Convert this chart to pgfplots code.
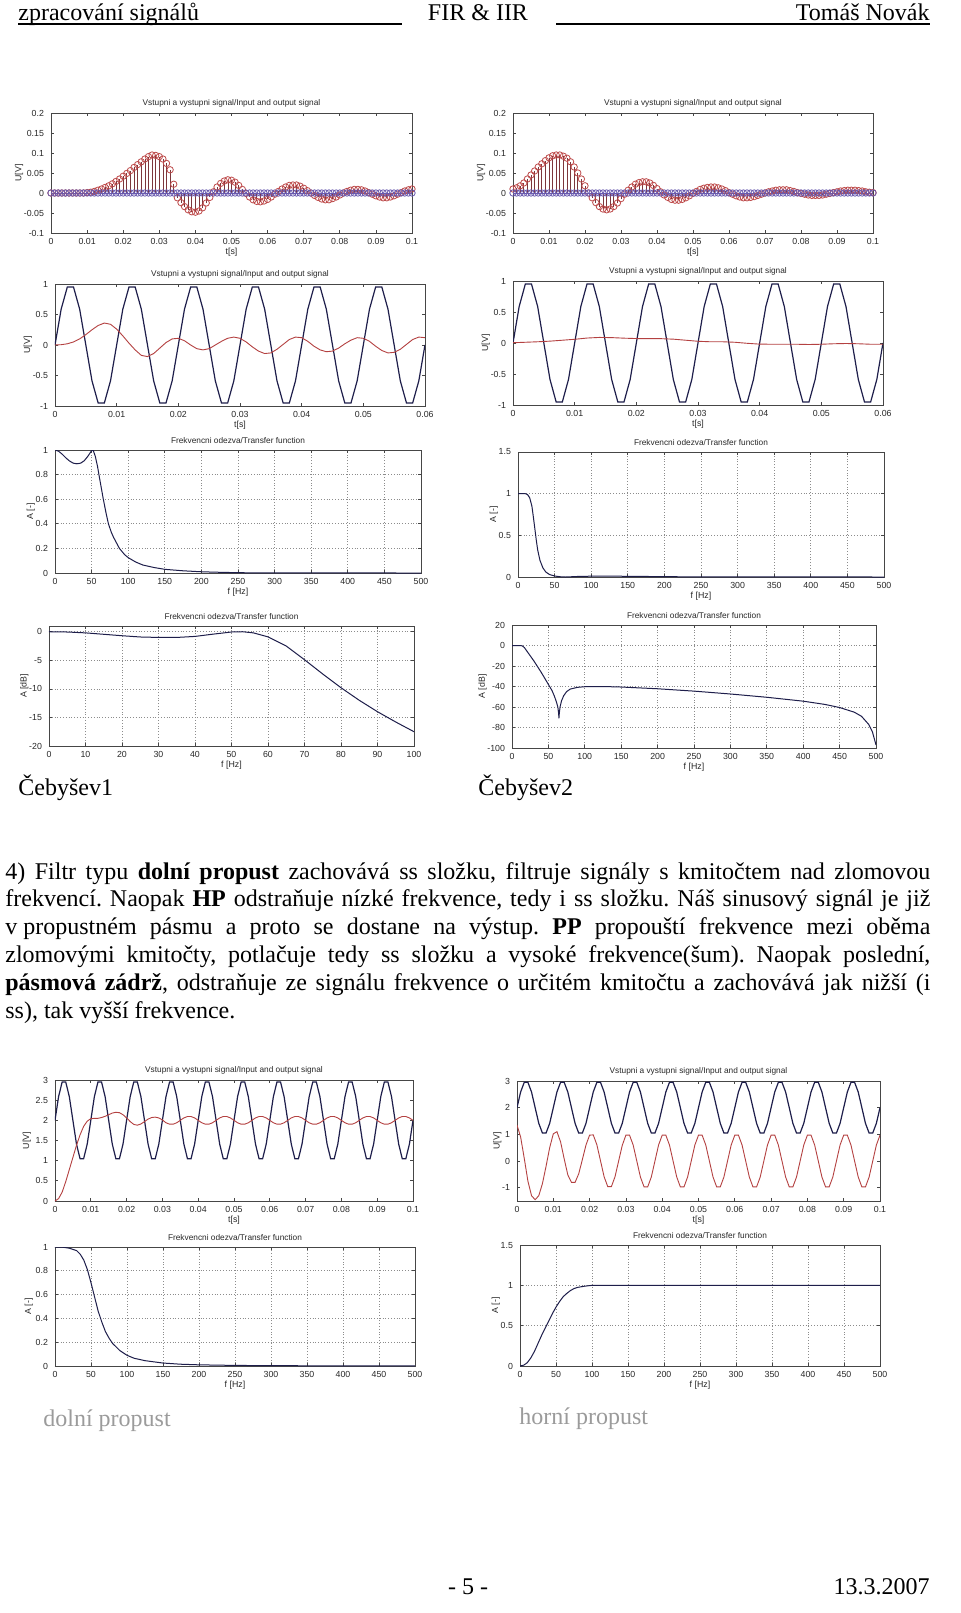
\documentclass[border=0pt]{standalone}
\usepackage{fontspec}
\setmainfont{Liberation Serif}
\newfontfamily\msans{Liberation Sans}
\usepackage{pgfplots}
\usepackage{pgfplotstable}
\pgfplotsset{compat=1.18}

\definecolor{axc}{RGB}{70,70,70}
\definecolor{txc}{RGB}{40,40,40}
\definecolor{navy}{RGB}{30,30,75}
\definecolor{redl}{RGB}{180,65,65}
\definecolor{stemr}{RGB}{125,55,60}
\definecolor{circr}{RGB}{190,75,75}
\definecolor{circb}{RGB}{105,90,175}
\definecolor{grayt}{RGB}{155,155,155}

\newcommand\mf{\msans\fontsize{4.4}{5}\selectfont}
\newcommand\mtf{\msans\fontsize{4.15}{5}\selectfont}
\newcommand\tf{\fontsize{12}{14}\selectfont\frenchspacing}

\pgfplotsset{
  mat/.style={scale only axis, anchor=north west,
    scaled x ticks=false, scaled y ticks=false,
    axis line style={draw=axc, line width=0.4pt},
    every tick/.style={draw=axc, line width=0.35pt},
    major tick length=1.6pt, tick align=inside,
    ticklabel style={font=\mf, text=txc},
    xticklabel style={yshift=0.8pt},
    label style={font=\mf, text=txc},
    every axis title/.style={at={(0.5,1)}, anchor=south, font=\mtf, text=txc, inner sep=1pt, yshift=1.8pt},
    xlabel style={yshift=5.3pt}, ylabel style={yshift=-6.5pt}},
  mgrid/.style={grid=major, major grid style={densely dotted, draw=black!45, line width=0.35pt}},
  tsec/.style={xmin=0, xmax=0.1,
    xtick={0,0.01,0.02,0.03,0.04,0.05,0.06,0.07,0.08,0.09,0.1},
    xticklabels={0,0.01,0.02,0.03,0.04,0.05,0.06,0.07,0.08,0.09,0.1},
    xlabel={t[s]}, ylabel={U[V]}, title={Vstupni a vystupni signal/Input and output signal}},
  tshort/.style={xmin=0, xmax=0.06,
    xtick={0,0.01,0.02,0.03,0.04,0.05,0.06},
    xticklabels={0,0.01,0.02,0.03,0.04,0.05,0.06},
    ymin=-1, ymax=1, ytick={-1,-0.5,0,0.5,1}, yticklabels={-1,-0.5,0,0.5,1},
    xlabel={t[s]}, ylabel={U[V]}, title={Vstupni a vystupni signal/Input and output signal}},
  f500/.style={mgrid, xmin=0, xmax=500,
    xtick={0,50,100,150,200,250,300,350,400,450,500},
    xticklabels={0,50,100,150,200,250,300,350,400,450,500},
    xlabel={f [Hz]}, title={Frekvencni odezva/Transfer function}},
  inp/.style={draw=navy, line width=0.6pt},
  outp/.style={draw=redl, line width=0.45pt},
  frq/.style={draw=navy, line width=0.5pt},
}

% impulse responses, t step 0.001 s
\pgfplotstableread{
t a b z
0.000 0 0.010 0
0.001 0 0.013 0
0.002 0 0.018 0
0.003 0 0.025 0
0.004 0 0.035 0
0.005 0 0.045 0
0.006 0 0.055 0
0.007 0 0.065 0
0.008 0 0.073 0
0.009 0 0.081 0
0.010 0.001 0.088 0
0.011 0.002 0.093 0
0.012 0.004 0.095 0
0.013 0.007 0.095 0
0.014 0.010 0.092 0
0.015 0.014 0.087 0
0.016 0.018 0.078 0
0.017 0.023 0.065 0
0.018 0.029 0.050 0
0.019 0.035 0.035 0
0.020 0.042 0.018 0
0.021 0.049 0.000 0
0.022 0.056 -0.012 0
0.023 0.064 -0.024 0
0.024 0.071 -0.034 0
0.025 0.078 -0.040 0
0.026 0.085 -0.042 0
0.027 0.091 -0.040 0
0.028 0.095 -0.034 0
0.029 0.094 -0.025 0
0.030 0.091 -0.014 0
0.031 0.085 -0.003 0
0.032 0.074 0.007 0
0.033 0.058 0.015 0
0.034 0.022 0.022 0
0.035 -0.012 0.026 0
0.036 -0.024 0.028 0
0.037 -0.034 0.028 0
0.038 -0.042 0.025 0
0.039 -0.047 0.019 0
0.040 -0.048 0.011 0
0.041 -0.045 0.003 0
0.042 -0.037 -0.005 0
0.043 -0.025 -0.011 0
0.044 -0.011 -0.016 0
0.045 0.003 -0.018 0
0.046 0.015 -0.018 0
0.047 0.024 -0.016 0
0.048 0.030 -0.012 0
0.049 0.033 -0.007 0
0.050 0.032 -0.001 0
0.051 0.027 0.004 0
0.052 0.019 0.009 0
0.053 0.009 0.012 0
0.054 -0.001 0.014 0
0.055 -0.010 0.015 0
0.056 -0.017 0.015 0
0.057 -0.021 0.013 0
0.058 -0.022 0.010 0
0.059 -0.020 0.006 0
0.060 -0.016 0.001 0
0.061 -0.010 -0.003 0
0.062 -0.003 -0.007 0
0.063 0.004 -0.010 0
0.064 0.010 -0.012 0
0.065 0.015 -0.012 0
0.066 0.019 -0.011 0
0.067 0.020 -0.009 0
0.068 0.020 -0.006 0
0.069 0.017 -0.003 0
0.070 0.012 0.000 0
0.071 0.006 0.003 0
0.072 0.000 0.005 0
0.073 -0.006 0.007 0
0.074 -0.011 0.008 0
0.075 -0.015 0.008 0
0.076 -0.017 0.008 0
0.077 -0.017 0.006 0
0.078 -0.014 0.004 0
0.079 -0.010 0.001 0
0.080 -0.005 -0.001 0
0.081 0.000 -0.003 0
0.082 0.004 -0.005 0
0.083 0.007 -0.006 0
0.084 0.009 -0.006 0
0.085 0.009 -0.006 0
0.086 0.008 -0.005 0
0.087 0.005 -0.003 0
0.088 0.001 -0.001 0
0.089 -0.003 0.001 0
0.090 -0.007 0.003 0
0.091 -0.010 0.005 0
0.092 -0.012 0.006 0
0.093 -0.012 0.007 0
0.094 -0.010 0.007 0
0.095 -0.007 0.007 0
0.096 -0.003 0.006 0
0.097 0.001 0.005 0
0.098 0.005 0.003 0
0.099 0.008 0.002 0
0.100 0.010 0.001 0
}\stem

% 100 Hz input and Cebysev1 output, 0..0.06 s
\pgfplotstableread{
t s c
0.000 0 0
0.001 0.588 0.005
0.002 0.951 0.02
0.003 0.951 0.05
0.004 0.588 0.10
0.005 0 0.17
0.006 -0.588 0.25
0.007 -0.951 0.32
0.008 -0.951 0.36
0.009 -0.588 0.34
0.010 0 0.26
0.011 0.588 0.15
0.012 0.951 0.03
0.013 0.951 -0.08
0.014 0.588 -0.17
0.015 0 -0.19
0.016 -0.588 -0.14
0.017 -0.951 -0.05
0.018 -0.951 0.04
0.019 -0.588 0.10
0.020 0 0.11
0.021 0.588 0.07
0.022 0.951 0.00
0.023 0.951 -0.06
0.024 0.588 -0.08
0.025 0 -0.06
0.026 -0.588 0.00
0.027 -0.951 0.06
0.028 -0.951 0.11
0.029 -0.588 0.13
0.030 0 0.11
0.031 0.588 0.05
0.032 0.951 -0.03
0.033 0.951 -0.10
0.034 0.588 -0.14
0.035 0 -0.13
0.036 -0.588 -0.07
0.037 -0.951 0.01
0.038 -0.951 0.09
0.039 -0.588 0.13
0.040 0 0.12
0.041 0.588 0.06
0.042 0.951 -0.02
0.043 0.951 -0.08
0.044 0.588 -0.11
0.045 0 -0.10
0.046 -0.588 -0.05
0.047 -0.951 0.02
0.048 -0.951 0.08
0.049 -0.588 0.12
0.050 0 0.11
0.051 0.588 0.06
0.052 0.951 -0.02
0.053 0.951 -0.09
0.054 0.588 -0.13
0.055 0 -0.12
0.056 -0.588 -0.07
0.057 -0.951 0.01
0.058 -0.951 0.09
0.059 -0.588 0.13
0.060 0 0.12
}\sine

% input with dc offset, high pass output h, low pass output l
\pgfplotstableread{
t d h l
0.000 2 1.35 0.00
0.001 2.588 0.90 0.06
0.002 2.951 0.10 0.22
0.003 2.951 -0.75 0.48
0.004 2.588 -1.30 0.78
0.005 2 -1.45 1.08
0.006 1.412 -1.30 1.38
0.007 1.049 -0.85 1.64
0.008 1.049 -0.20 1.85
0.009 1.412 0.50 1.98
0.010 2 1.02 2.04
0.011 2.588 1.10 2.05
0.012 2.951 0.72 2.05
0.013 2.951 0.08 2.07
0.014 2.588 -0.52 2.10
0.015 2 -0.80 2.14
0.016 1.412 -0.80 2.18
0.017 1.049 -0.48 2.20
0.018 1.049 0.05 2.19
0.019 1.412 0.60 2.14
0.020 2 0.97 2.06
0.021 2.588 0.98 1.97
0.022 2.951 0.61 1.90
0.023 2.951 0.01 1.88
0.024 2.588 -0.59 1.91
0.025 2 -0.96 1.97
0.026 1.412 -0.96 2.03
0.027 1.049 -0.59 2.07
0.028 1.049 0.00 2.08
0.029 1.412 0.59 2.06
0.030 2 0.97 2.01
0.031 2.588 0.97 1.94
0.032 2.951 0.60 1.905
0.033 2.951 0.00 1.905
0.034 2.588 -0.60 1.94
0.035 2 -0.97 2.00
0.036 1.412 -0.97 2.06
0.037 1.049 -0.60 2.095
0.038 1.049 0.00 2.095
0.039 1.412 0.60 2.06
0.040 2 0.97 2.00
0.041 2.588 0.97 1.94
0.042 2.951 0.60 1.905
0.043 2.951 0.00 1.905
0.044 2.588 -0.60 1.94
0.045 2 -0.97 2.00
0.046 1.412 -0.97 2.06
0.047 1.049 -0.60 2.095
0.048 1.049 0.00 2.095
0.049 1.412 0.60 2.06
0.050 2 0.97 2.00
0.051 2.588 0.97 1.94
0.052 2.951 0.60 1.905
0.053 2.951 0.00 1.905
0.054 2.588 -0.60 1.94
0.055 2 -0.97 2.00
0.056 1.412 -0.97 2.06
0.057 1.049 -0.60 2.095
0.058 1.049 0.00 2.095
0.059 1.412 0.60 2.06
0.060 2 0.97 2.00
0.061 2.588 0.97 1.94
0.062 2.951 0.60 1.905
0.063 2.951 0.00 1.905
0.064 2.588 -0.60 1.94
0.065 2 -0.97 2.00
0.066 1.412 -0.97 2.06
0.067 1.049 -0.60 2.095
0.068 1.049 0.00 2.095
0.069 1.412 0.60 2.06
0.070 2 0.97 2.00
0.071 2.588 0.97 1.94
0.072 2.951 0.60 1.905
0.073 2.951 0.00 1.905
0.074 2.588 -0.60 1.94
0.075 2 -0.97 2.00
0.076 1.412 -0.97 2.06
0.077 1.049 -0.60 2.095
0.078 1.049 0.00 2.095
0.079 1.412 0.60 2.06
0.080 2 0.97 2.00
0.081 2.588 0.97 1.94
0.082 2.951 0.60 1.905
0.083 2.951 0.00 1.905
0.084 2.588 -0.60 1.94
0.085 2 -0.97 2.00
0.086 1.412 -0.97 2.06
0.087 1.049 -0.60 2.095
0.088 1.049 0.00 2.095
0.089 1.412 0.60 2.06
0.090 2 0.97 2.00
0.091 2.588 0.97 1.94
0.092 2.951 0.60 1.905
0.093 2.951 0.00 1.905
0.094 2.588 -0.60 1.94
0.095 2 -0.97 2.00
0.096 1.412 -0.97 2.06
0.097 1.049 -0.60 2.095
0.098 1.049 0.00 2.095
0.099 1.412 0.60 2.06
0.100 2 0.97 2.00
}\dcsig

\begin{document}
\begin{tikzpicture}
\useasboundingbox[fill=white] (0,0) rectangle (480pt,-806.5pt);

% header
\node[anchor=base west, inner sep=0, font=\tf] at (9pt,-10pt) {zpracování signálů};
\draw[line width=0.6pt] (9pt,-12pt) -- (201pt,-12pt);
\node[anchor=base, inner sep=0, font=\tf] at (239pt,-10pt) {FIR \& IIR};
\draw[line width=0.6pt] (278pt,-12pt) -- (465pt,-12pt);
\node[anchor=base east, inner sep=0, font=\tf] at (465pt,-10pt) {Tomáš Novák};

% ---- Cebysev1 ----
\begin{axis}[mat, tsec, at={(25.5pt,-56.5pt)}, width=180.5pt, height=60pt,
  ymin=-0.1, ymax=0.2, ytick={-0.1,-0.05,0,0.05,0.1,0.15,0.2},
  yticklabels={-0.1,-0.05,0,0.05,0.1,0.15,0.2}]
\addplot[ycomb, draw=stemr, line width=0.35pt, mark=o, mark size=1.6pt,
  mark options={draw=circr, line width=0.4pt}] table[x=t, y=a]{\stem};
\addplot[only marks, mark=o, mark size=1.6pt, mark options={draw=circb, line width=0.4pt}] table[x=t, y=z]{\stem};
\addplot[draw=circb, line width=0.5pt] coordinates {(0,0) (0.1,0)};
\end{axis}

\begin{axis}[mat, tshort, at={(27.5pt,-142pt)}, width=185pt, height=61pt]
\addplot[inp] table[x=t, y=s]{\sine};
\addplot[outp] table[x=t, y=c]{\sine};
\end{axis}

\begin{axis}[mat, f500, at={(27.5pt,-225pt)}, width=183pt, height=61.5pt,
  ymin=0, ymax=1, ytick={0,0.2,0.4,0.6,0.8,1}, yticklabels={0,0.2,0.4,0.6,0.8,1},
  ylabel={A [-]}]
\addplot[frq] coordinates {(0,1.0) (5,0.99) (10,0.965) (15,0.935) (20,0.91) (25,0.893)
  (30,0.888) (35,0.893) (40,0.913) (45,0.95) (50,0.995) (52,1.0) (55,0.95) (58,0.87)
  (60,0.80) (63,0.70) (66,0.60) (70,0.48) (73,0.40) (77,0.33) (80,0.29) (88,0.20)
  (95,0.15) (100,0.125) (110,0.09) (120,0.065) (135,0.045) (150,0.03) (175,0.018)
  (200,0.01) (230,0.005) (260,0.002) (300,0.001) (400,0.0003) (500,0)};
\end{axis}

\begin{axis}[mat, mgrid, at={(24.5pt,-313pt)}, width=182.5pt, height=60pt,
  xmin=0, xmax=100, xtick={0,10,20,30,40,50,60,70,80,90,100},
  xticklabels={0,10,20,30,40,50,60,70,80,90,100},
  ymin=-20, ymax=1, ytick={-20,-15,-10,-5,0}, yticklabels={-20,-15,-10,-5,0},
  xlabel={f [Hz]}, ylabel={A [dB]}, title={Frekvencni odezva/Transfer function}]
\addplot[frq] coordinates {(0,0) (5,-0.05) (10,-0.2) (15,-0.45) (20,-0.7) (25,-0.92)
  (30,-1.0) (35,-1.0) (40,-0.82) (45,-0.42) (50,-0.05) (53,0) (56,-0.2) (60,-0.9)
  (65,-2.5) (70,-4.9) (75,-7.4) (80,-9.8) (85,-12) (90,-14) (95,-15.8) (100,-17.5)};
\end{axis}

% ---- Cebysev2 ----
\begin{axis}[mat, tsec, at={(256.5pt,-56.5pt)}, width=180pt, height=60pt,
  ymin=-0.1, ymax=0.2, ytick={-0.1,-0.05,0,0.05,0.1,0.15,0.2},
  yticklabels={-0.1,-0.05,0,0.05,0.1,0.15,0.2}]
\addplot[ycomb, draw=stemr, line width=0.35pt, mark=o, mark size=1.6pt,
  mark options={draw=circr, line width=0.4pt}] table[x=t, y=b]{\stem};
\addplot[only marks, mark=o, mark size=1.6pt, mark options={draw=circb, line width=0.4pt}] table[x=t, y=z]{\stem};
\addplot[draw=circb, line width=0.5pt] coordinates {(0,0) (0.1,0)};
\end{axis}

\begin{axis}[mat, tshort, at={(256.5pt,-140.5pt)}, width=185pt, height=62pt]
\addplot[inp] table[x=t, y=s]{\sine};
\addplot[outp] coordinates {(0,0.005) (0.002,0.012) (0.004,0.02) (0.006,0.03) (0.008,0.045)
  (0.010,0.06) (0.012,0.08) (0.014,0.09) (0.016,0.087) (0.018,0.078) (0.020,0.072)
  (0.022,0.07) (0.024,0.07) (0.026,0.062) (0.028,0.045) (0.030,0.028) (0.032,0.02)
  (0.034,0.02) (0.036,0.012) (0.038,-0.005) (0.040,-0.018) (0.042,-0.02) (0.044,-0.02)
  (0.046,-0.02) (0.048,-0.024) (0.050,-0.02) (0.052,-0.012) (0.054,-0.008) (0.056,-0.012)
  (0.058,-0.02) (0.060,-0.02)};
\end{axis}

\begin{axis}[mat, f500, at={(259pt,-226pt)}, width=183pt, height=62.5pt,
  ymin=0, ymax=1.5, ytick={0,0.5,1,1.5}, yticklabels={0,0.5,1,1.5}, ylabel={A [-]}]
\addplot[frq] coordinates {(0,1) (10,1) (13,0.99) (16,0.95) (19,0.85) (21,0.72) (23,0.58)
  (25,0.44) (27,0.32) (30,0.2) (34,0.11) (38,0.06) (43,0.03) (50,0.012) (58,0.003) (65,0)
  (80,0.006) (100,0.01) (150,0.009) (190,0.005) (220,0.003) (300,0.002) (400,0.001) (500,0)};
\end{axis}

\begin{axis}[mat, f500, at={(256pt,-312.5pt)}, width=182pt, height=61.5pt,
  ymin=-100, ymax=20, ytick={-100,-80,-60,-40,-20,0,20},
  yticklabels={-100,-80,-60,-40,-20,0,20}, ylabel={A [dB]}]
\addplot[frq] coordinates {(0,0) (10,0) (14,-0.3) (17,-2) (20,-5) (25,-10) (30,-15)
  (35,-20.5) (40,-26) (45,-32) (50,-38) (55,-44) (58,-49) (61,-55) (63,-60) (64,-66)
  (64.5,-71) (65,-66) (66,-60) (68,-54) (71,-49) (75,-45) (80,-42.5) (90,-40.8)
  (100,-40.2) (125,-40) (150,-40.5) (200,-42.2) (250,-44.5) (300,-47.3) (350,-50.5)
  (400,-54.3) (430,-57.5) (450,-60.5) (470,-65) (480,-69) (490,-77) (495,-84) (500,-97)};
\end{axis}

\node[anchor=base west, inner sep=0, font=\tf] at (9pt,-397.5pt) {Čebyšev1};
\node[anchor=base west, inner sep=0, font=\tf] at (239pt,-397.5pt) {Čebyšev2};

% paragraph
\begin{scope}[every node/.style={anchor=base west, inner sep=0, font=\tf}]
\node at (2.5pt,-439.5pt) {\hbox to 462.5pt{4) Filtr typu \textbf{dolní propust} zachovává ss složku, filtruje signály s kmitočtem nad zlomovou}};
\node at (2.5pt,-453.4pt) {\hbox to 462.5pt{frekvencí. Naopak \textbf{HP} odstraňuje nízké frekvence, tedy i ss složku. Náš sinusový signál je již}};
\node at (2.5pt,-467.3pt) {\hbox to 462.5pt{v\kern3pt propustném pásmu a proto se dostane na výstup. \textbf{PP} propouští frekvence mezi oběma}};
\node at (2.5pt,-481.2pt) {\hbox to 462.5pt{zlomovými kmitočty, potlačuje tedy ss složku a vysoké frekvence(šum). Naopak poslední,}};
\node at (2.5pt,-495.1pt) {\hbox to 462.5pt{\textbf{pásmová zádrž}, odstraňuje ze signálu frekvence o určitém kmitočtu a zachovává jak nižší (i}};
\node at (2.5pt,-509pt) {ss), tak vyšší frekvence.};
\end{scope}

% ---- dolni propust ----
\begin{axis}[mat, tsec, at={(27.5pt,-540pt)}, width=179pt, height=60.5pt,
  ymin=0, ymax=3, ytick={0,0.5,1,1.5,2,2.5,3}, yticklabels={0,0.5,1,1.5,2,2.5,3},
  ylabel style={yshift=2pt}]
\addplot[inp] table[x=t, y=d]{\dcsig};
\addplot[outp] table[x=t, y=l]{\dcsig};
\end{axis}

\begin{axis}[mat, f500, at={(27.5pt,-623.5pt)}, width=180pt, height=59.5pt,
  ymin=0, ymax=1, ytick={0,0.2,0.4,0.6,0.8,1}, yticklabels={0,0.2,0.4,0.6,0.8,1},
  ylabel={A [-]}, ylabel style={yshift=1pt}]
\addplot[frq] coordinates {(0,1) (10,0.999) (20,0.99) (30,0.97) (35,0.94) (40,0.89)
  (45,0.81) (50,0.70) (55,0.58) (60,0.46) (65,0.37) (70,0.29) (75,0.235) (80,0.19)
  (90,0.13) (100,0.09) (110,0.065) (125,0.045) (150,0.025) (175,0.015) (200,0.01)
  (250,0.005) (300,0.003) (400,0.001) (500,0.0005)};
\end{axis}

% ---- horni propust ----
\begin{axis}[mat, tsec, at={(258.5pt,-540.5pt)}, width=181.5pt, height=60pt,
  ymin=-1.5, ymax=3, ytick={-1,0,1,2,3}, yticklabels={-1,0,1,2,3}]
\addplot[inp] table[x=t, y=d]{\dcsig};
\addplot[outp] table[x=t, y=h]{\dcsig};
\end{axis}

\begin{axis}[mat, f500, at={(260pt,-622.5pt)}, width=180pt, height=60.5pt,
  ymin=0, ymax=1.5, ytick={0,0.5,1,1.5}, yticklabels={0,0.5,1,1.5}, ylabel={A [-]}]
\addplot[frq] coordinates {(0,0) (5,0.01) (10,0.04) (15,0.1) (20,0.18) (25,0.28)
  (30,0.38) (35,0.47) (40,0.56) (45,0.65) (50,0.73) (55,0.8) (60,0.86) (65,0.9)
  (70,0.935) (75,0.96) (80,0.975) (90,0.99) (100,1.0) (500,1.0)};
\end{axis}

\node[anchor=base west, inner sep=0, font=\tf, text=grayt] at (21.5pt,-713pt) {dolní propust};
\node[anchor=base west, inner sep=0, font=\tf, text=grayt] at (259.5pt,-712pt) {horní propust};

% footer
\node[anchor=base, inner sep=0, font=\tf] at (234pt,-797pt) {- 5 -};
\node[anchor=base east, inner sep=0, font=\tf] at (465pt,-797pt) {13.3.2007};
\end{tikzpicture}
\end{document}
